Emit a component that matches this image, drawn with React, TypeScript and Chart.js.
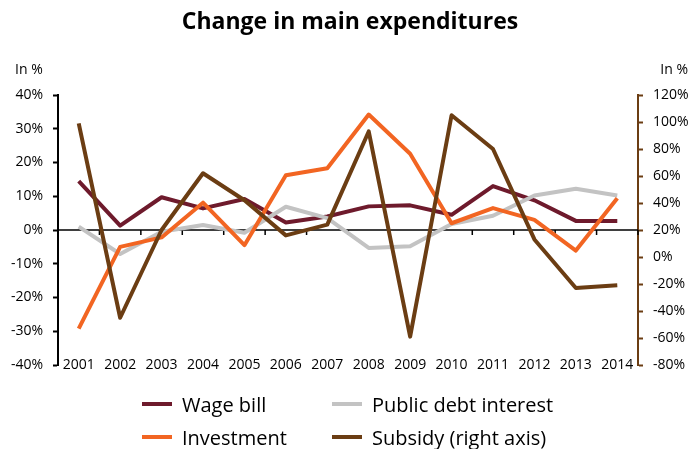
import React, { useEffect, useRef } from "react";
import { Chart, registerables } from "chart.js";

Chart.register(...registerables);

const years = ["2001", "2002", "2003", "2004", "2005", "2006", "2007", "2008", "2009", "2010", "2011", "2012", "2013", "2014"];
const wageBill = [14.5, 1.3, 9.7, 6.4, 9.2, 2.2, 4.0, 7.0, 7.3, 4.5, 13.0, 8.8, 2.7, 2.7];
const publicDebtInterest = [1.0, -7.1, -0.5, 1.5, -0.8, 6.9, 3.5, -5.3, -4.8, 1.8, 4.2, 10.2, 12.2, 10.2];
const investment = [-29.2, -5.0, -2.2, 8.1, -4.5, 16.2, 18.3, 34.2, 22.6, 2.0, 6.5, 3.0, -6.1, 9.4];
const subsidy = [99, -45, 20, 62, 42, 16, 24, 93, -59, 105, 80, 13, -23, -21];

const leftTicks = { min: -40, max: 40, step: 10 };
const rightTicks = { min: -80, max: 120, step: 20 };

const COLORS = {
  wage: "#6e1a2c",
  debt: "#c3c3c3",
  invest: "#f26522",
  subsidy: "#6b3d13",
};

const FONT = "'Open Sans', 'Noto Sans', sans-serif";

const legendItems = [
  { label: "Wage bill", color: COLORS.wage, left: 142, top: 404 },
  { label: "Public debt interest", color: COLORS.debt, left: 332, top: 404 },
  { label: "Investment", color: COLORS.invest, left: 142, top: 437 },
  { label: "Subsidy (right axis)", color: COLORS.subsidy, left: 332, top: 437 },
];

const overlayPlugin = {
  id: "overlay",
  beforeDatasetsDraw(chart: any) {
    const { ctx, chartArea, scales } = chart;
    const x = scales.x;
    const y = scales.y;
    const zeroY = y.getPixelForValue(0);
    ctx.save();
    ctx.strokeStyle = "#000";
    ctx.lineWidth = 1.5;
    ctx.beginPath();
    ctx.moveTo(chartArea.left, zeroY);
    ctx.lineTo(chartArea.right, zeroY);
    const n = years.length;
    const step = x.getPixelForValue(1) - x.getPixelForValue(0);
    for (let i = 0; i <= n; i++) {
      const px = i < n ? x.getPixelForValue(i) - step / 2 : chartArea.right;
      ctx.moveTo(px, zeroY);
      ctx.lineTo(px, zeroY + 5);
    }
    ctx.stroke();
    ctx.restore();
  },
  afterDraw(chart: any) {
    const { ctx, chartArea, scales } = chart;
    const x = scales.x;
    ctx.save();
    ctx.fillStyle = "#000";
    ctx.font = `14px ${FONT}`;
    ctx.textBaseline = "middle";
    ctx.textAlign = "left";
    ctx.fillText("In %", 15, 70);
    ctx.textAlign = "right";
    ctx.fillText("In %", 688, 70);
    ctx.textAlign = "center";
    years.forEach((yr, i) => {
      ctx.fillText(yr, x.getPixelForValue(i), chartArea.bottom);
    });
    ctx.restore();
  },
};

export default function App() {
  const canvasRef = useRef<HTMLCanvasElement | null>(null);

  useEffect(() => {
    const canvas = canvasRef.current;
    if (!canvas) return;
    const chart = new Chart(canvas, {
      type: "line",
      data: {
        labels: years,
        datasets: [
          { label: "Wage bill", data: wageBill, borderColor: COLORS.wage, yAxisID: "y", order: 4 },
          { label: "Public debt interest", data: publicDebtInterest, borderColor: COLORS.debt, yAxisID: "y", order: 3 },
          { label: "Investment", data: investment, borderColor: COLORS.invest, yAxisID: "y", order: 2 },
          { label: "Subsidy (right axis)", data: subsidy, borderColor: COLORS.subsidy, yAxisID: "y2", order: 1 },
        ].map((d) => ({
          ...d,
          borderWidth: 4,
          pointRadius: 0,
          tension: 0,
          fill: false,
          borderJoinStyle: "round" as const,
          borderCapStyle: "butt" as const,
        })),
      },
      options: {
        animation: false,
        responsive: true,
        maintainAspectRatio: false,
        layout: { padding: { top: 95, bottom: 84, left: 0, right: 0 } },
        plugins: {
          legend: { display: false },
          title: { display: false },
          tooltip: { enabled: false },
        },
        scales: {
          x: {
            type: "category",
            offset: true,
            position: "bottom",
            display: true,
            grid: { display: false, drawTicks: false },
            border: { display: false },
            ticks: { display: false },
            afterFit: (s: any) => {
              s.height = 0;
            },
          },
          y: {
            position: "left",
            min: leftTicks.min,
            max: leftTicks.max,
            ticks: {
              stepSize: leftTicks.step,
              color: "#000",
              padding: 10,
              font: { family: FONT, size: 14 },
              callback: (v: any) => `${v}%`,
            },
            grid: { drawOnChartArea: false, drawTicks: true, tickLength: 5, tickColor: "#000", tickWidth: 2 },
            border: { display: true, color: "#000", width: 2 },
            afterFit: (s: any) => {
              s.width = 58;
            },
          },
          y2: {
            position: "right",
            min: rightTicks.min,
            max: rightTicks.max,
            ticks: {
              stepSize: rightTicks.step,
              color: "#000",
              padding: 10,
              font: { family: FONT, size: 14 },
              callback: (v: any) => `${v}%`,
            },
            grid: { drawOnChartArea: false, drawTicks: true, tickLength: 5, tickColor: COLORS.subsidy, tickWidth: 2 },
            border: { display: true, color: COLORS.subsidy, width: 2 },
            afterFit: (s: any) => {
              s.width = 57;
            },
          },
        },
      },
      plugins: [overlayPlugin],
    });
    return () => chart.destroy();
  }, []);

  return (
    <div style={{ position: "fixed", left: 0, top: 0, width: 695, height: 449, background: "#fff", overflow: "hidden" }}>
      <canvas ref={canvasRef} style={{ position: "absolute", left: 0, top: 0, width: 695, height: 449 }} />
      <div
        style={{
          position: "absolute",
          left: 0,
          top: 4,
          width: 700,
          textAlign: "center",
          fontFamily: FONT,
          fontWeight: 700,
          fontSize: 23,
          lineHeight: "32px",
          color: "#000",
        }}
      >
        Change in main expenditures
      </div>
      {legendItems.map((it) => (
        <div
          key={it.label}
          style={{
            position: "absolute",
            left: it.left,
            top: it.top - 14,
            height: 28,
            display: "flex",
            alignItems: "center",
            fontFamily: FONT,
            fontSize: 20,
            color: "#000",
            whiteSpace: "nowrap",
          }}
        >
          <span style={{ display: "inline-block", width: 30, height: 4, background: it.color, marginRight: 10 }} />
          <span>{it.label}</span>
        </div>
      ))}
    </div>
  );
}
